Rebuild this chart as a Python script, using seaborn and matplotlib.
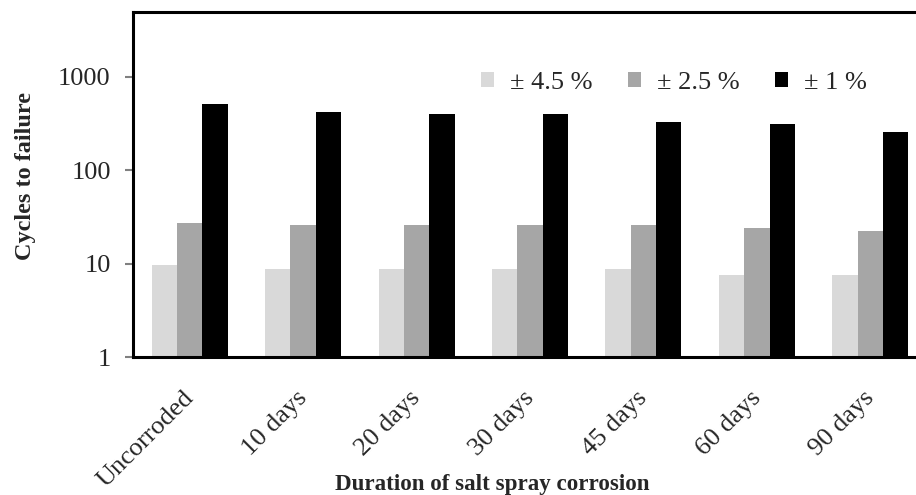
import pandas as pd
import matplotlib
matplotlib.use("Agg")
import matplotlib.pyplot as plt
import seaborn as sns
from matplotlib.ticker import FixedLocator, NullLocator, FixedFormatter
from matplotlib.transforms import ScaledTranslation

# --- data ---
durations = ["Uncorroded", "10 days", "20 days", "30 days", "45 days", "60 days", "90 days"]
strain_levels = ["\u00b1 4.5 %", "\u00b1 2.5 %", "\u00b1 1 %"]
cycles_45 = [9.6, 8.7, 8.7, 8.7, 8.7, 7.5, 7.5]
cycles_25 = [26.9, 25.6, 25.6, 25.6, 25.6, 24.1, 22.3]
cycles_10 = [508, 417, 397, 397, 326, 310, 255]
bar_colors = ["#d9d9d9", "#a6a6a6", "#000000"]

df = pd.DataFrame({
    "duration": durations * 3,
    "strain": [strain_levels[0]] * 7 + [strain_levels[1]] * 7 + [strain_levels[2]] * 7,
    "cycles": cycles_45 + cycles_25 + cycles_10,
})

sns.set_style("white")
plt.rcParams["font.family"] = ["Liberation Serif", "DejaVu Serif"]

fig = plt.figure(figsize=(9.16, 4.95), dpi=100)
# plot area runs past the right edge of the picture, as in the original
ax = fig.add_axes([133 / 916, 1 - 357 / 495, 794 / 916, 345 / 495])

sns.barplot(data=df, x="duration", y="cycles", hue="strain", order=durations,
            hue_order=strain_levels, palette=bar_colors, width=0.67,
            saturation=1, linewidth=0, ax=ax)

ax.set_yscale("log")
ax.set_ylim(1, 4950)
ax.set_xlim(-0.5, len(durations) - 0.5)
ax.yaxis.set_major_locator(FixedLocator([1, 10, 100, 1000]))
ax.yaxis.set_major_formatter(FixedFormatter(["1", "10", "100", "1000"]))
ax.yaxis.set_minor_locator(NullLocator())

ax.tick_params(axis="y", which="major", left=True, length=6, width=1.5,
               color="#808080", labelsize=19, pad=10)
ax.tick_params(axis="x", bottom=False, labelsize=19, pad=13)
shift = ScaledTranslation(-7 / 100, -7 / 100, fig.dpi_scale_trans)
for lab in ax.get_xticklabels():
    lab.set_rotation(45)
    lab.set_ha("right")
    lab.set_rotation_mode("anchor")
    lab.set_transform(lab.get_transform() + shift)

for side in ["left", "bottom", "top"]:
    ax.spines[side].set_color("black")
    ax.spines[side].set_linewidth(2.2)
ax.spines["right"].set_visible(False)

ax.set_ylabel("Cycles to failure", fontsize=17.5, fontweight="bold")
ax.yaxis.set_label_coords(-0.122, 0.525)
ax.set_xlabel("Duration of salt spray corrosion", fontsize=16.6, fontweight="bold")
ax.xaxis.set_label_coords((492 - 133) / 794, -0.34)

leg = ax.legend(loc="center", bbox_to_anchor=((674 - 133) / 794, (357 - 83) / 345),
                ncol=3, frameon=False, fontsize=19, handlelength=0.5, handleheight=0.5,
                handletextpad=0.6, columnspacing=1.35)

fig.savefig("out.png", dpi=100)
